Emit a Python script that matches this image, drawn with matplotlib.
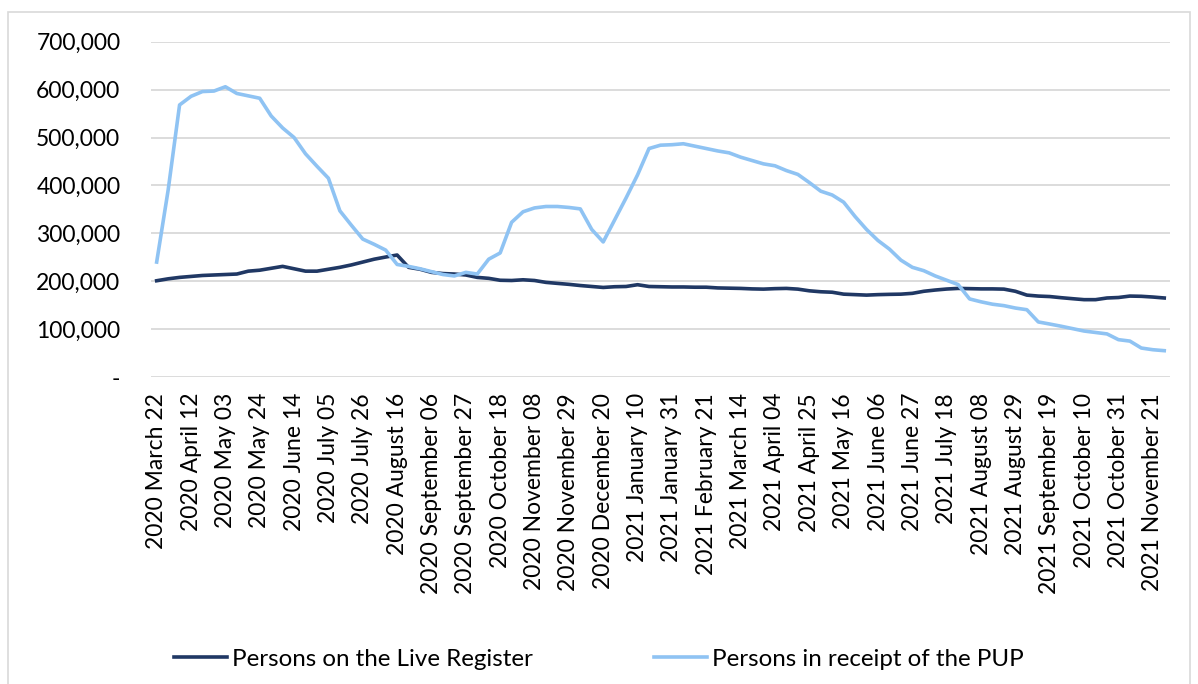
import matplotlib
matplotlib.use("Agg")
import matplotlib.pyplot as plt
import matplotlib.ticker as mticker
from matplotlib.patches import Rectangle
import pandas as pd

# Тижневі дати (категорії осі X)
week_dates = pd.date_range("2020-03-22", periods=89, freq="7D")
week_labels = [f"{d.year} {d.strftime('%B')} {d.day:02d}" for d in week_dates]

# Особи в Live Register
live_register = [
    201000, 205000, 208000, 210000, 212000, 213000, 214000, 215000, 221000, 223000,
    227000, 231000, 226000, 221000, 221000, 225000, 229000, 234000, 240000, 246000,
    250500, 254700, 229000, 225000, 218500, 216000, 215000, 213000, 208000, 206000,
    202000, 201500, 203000, 201500, 197600, 195500, 193500, 191000, 189000, 187000,
    188500, 189000, 192700, 189000, 188500, 188000, 188000, 187500, 187500, 186000,
    185500, 185000, 184000, 183500, 184500, 185000, 183500, 180000, 178000, 177000,
    173000, 172000, 171000, 172000, 172600, 173000, 174700, 179000, 181600, 183700,
    185000, 184500, 184000, 184000, 183500, 179000, 171000, 169000, 168000, 165600,
    163500, 161500, 161500, 165000, 166000, 169000, 168500, 167000, 165000,
]

# Особи, що отримують PUP
pup = [
    240000, 390000, 568000, 586000, 596000, 597000, 606000, 592000, 587000, 582000,
    545000, 520000, 500000, 466000, 440000, 415000, 347000, 317000, 288000, 277000,
    265000, 235000, 231000, 226000, 220000, 214000, 211000, 218500, 215000, 246000,
    259000, 323000, 345000, 353000, 356000, 356000, 354000, 351000, 308000, 282000,
    328000, 374000, 422000, 477000, 484000, 485000, 487000, 482000, 477000, 472000,
    468000, 459000, 452000, 445000, 441000, 431000, 423000, 406000, 388000, 380000,
    365000, 335000, 308000, 285000, 267000, 244000, 229000, 222000, 211000, 202000,
    193000, 163000, 157000, 152000, 149000, 144000, 140500, 115000, 110600, 106000,
    101000, 96000, 93000, 90000, 78000, 75000, 60500, 57000, 55000,
]

plt.rcParams['font.family'] = ['Lato', 'DejaVu Sans']

fig = plt.figure(figsize=(11.98, 6.84), dpi=100)
ax = fig.add_axes([0.126, 0.4488, 0.8506, 0.4902])

x = list(range(len(week_labels)))
ax.plot(x, live_register, color='#203864', linewidth=2.6, label='Persons on the Live Register')
ax.plot(x, pup, color='#8fc3f3', linewidth=2.6, label='Persons in receipt of the PUP')

ax.set_xlim(-0.5, len(x) - 0.5)
ax.set_ylim(0, 700000)
ax.set_yticks(range(0, 700001, 100000))
ax.yaxis.set_major_formatter(mticker.FuncFormatter(lambda v, p: '-' if v == 0 else f'{int(v):,}'))
ax.grid(axis='y', color='#d9d9d9', linewidth=1.3)
ax.set_axisbelow(True)

ax.set_xticks(x[::3])
ax.set_xticklabels(week_labels[::3], rotation=90)
ax.tick_params(axis='both', length=0, labelsize=16.5, colors='black')
ax.tick_params(axis='x', pad=11.5)
ax.tick_params(axis='y', pad=22)
for s in ax.spines.values():
    s.set_visible(False)

# Легенда
fig.legend(loc='center', bbox_to_anchor=(0.5, 0.0365), ncol=2, frameon=False,
           fontsize=17.4, handlelength=2.2, handletextpad=0.2, columnspacing=5.0)

# Рамка діаграми
fig.patches.append(Rectangle((8 / 1198, -0.01), 1182 / 1198, 1 - 12 / 684 + 0.01,
                             transform=fig.transFigure, fill=False,
                             edgecolor='#d9d9d9', linewidth=1.2))

fig.savefig('out.png', dpi=100)
